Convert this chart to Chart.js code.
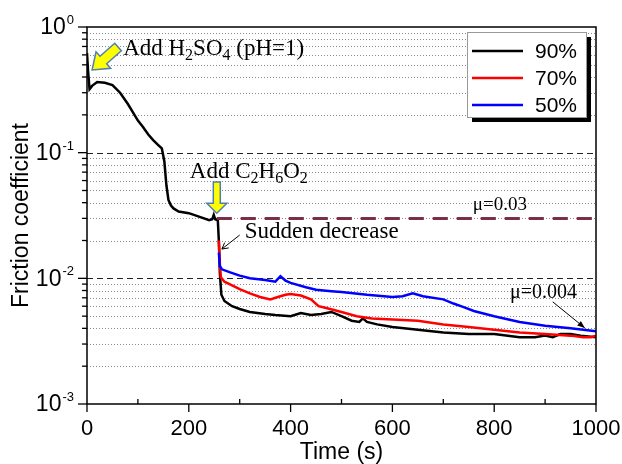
<!DOCTYPE html>
<html>
<head>
<meta charset="utf-8">
<script src="https://cdn.jsdelivr.net/npm/chart.js@4/dist/chart.umd.min.js"></script>
<style>
  body { margin: 0; background: #fff; }
  #wrap { width: 622px; height: 464px; }
</style>
</head>
<body>
<div id="wrap"><canvas id="fricChart" width="622" height="464"></canvas></div>
<script>
// friction coefficient vs time, three concentrations

const time90 = [0, 2, 5, 10, 20, 35, 50, 65, 80, 90, 100, 110, 120, 130, 140, 147, 152, 156, 160, 165, 170, 180, 200, 220, 240, 246, 249, 252, 257, 259, 261, 264, 270, 285, 300, 320, 350, 370, 400, 420, 440, 460, 480, 500, 520, 535, 542, 550, 570, 600, 650, 700, 750, 800, 850, 880, 900, 915, 930, 950, 970, 1000];
const mu90   = [0.62, 0.45, 0.32, 0.34, 0.365, 0.36, 0.345, 0.3, 0.245, 0.21, 0.18, 0.16, 0.14, 0.126, 0.115, 0.108, 0.085, 0.055, 0.042, 0.038, 0.036, 0.034, 0.033, 0.031, 0.029, 0.0295, 0.032, 0.0295, 0.029, 0.02, 0.011, 0.0074, 0.0066, 0.006, 0.0057, 0.0054, 0.0052, 0.0051, 0.005, 0.0053, 0.0051, 0.0052, 0.0054, 0.005, 0.0046, 0.0045, 0.0048, 0.0045, 0.0043, 0.0041, 0.0039, 0.0037, 0.0036, 0.0036, 0.0034, 0.0034, 0.0035, 0.0034, 0.0036, 0.0036, 0.0035, 0.0034];

const time70 = [259, 261, 263, 270, 285, 300, 320, 340, 360, 375, 390, 400, 420, 440, 455, 470, 500, 530, 560, 600, 650, 700, 750, 800, 850, 900, 950, 975, 990, 1000];
const mu70   = [0.02, 0.013, 0.0102, 0.0094, 0.0088, 0.0082, 0.0076, 0.0071, 0.0068, 0.0071, 0.0074, 0.0075, 0.0073, 0.0068, 0.006, 0.0058, 0.0054, 0.005, 0.0048, 0.0047, 0.0046, 0.0043, 0.0041, 0.0039, 0.0037, 0.0036, 0.0035, 0.0034, 0.0034, 0.0035];

const time50 = [259, 261, 265, 280, 300, 320, 350, 370, 380, 390, 400, 430, 450, 480, 500, 550, 600, 620, 640, 660, 700, 720, 740, 760, 800, 850, 900, 950, 1000];
const mu50   = [0.016, 0.0125, 0.0118, 0.0112, 0.0105, 0.01, 0.0097, 0.0094, 0.0104, 0.0096, 0.0092, 0.0085, 0.0081, 0.0079, 0.0078, 0.0074, 0.0071, 0.0072, 0.0076, 0.0072, 0.0068, 0.0063, 0.0059, 0.0055, 0.005, 0.0045, 0.0042, 0.004, 0.0038];

// mu = 0.03 reference line
const refTime = [255, 1000];
const refMu   = [0.03, 0.03];

const seriesLabels = ['90%', '70%', '50%'];
const seriesColors = ['#000000', '#ff0000', '#0000ff'];

const yMajor = [1, 0.1, 0.01, 0.001];
const yExp   = ['0', '-1', '-2', '-3'];

const SANS  = '"Liberation Sans", Arial, sans-serif';
const SERIF = '"Liberation Serif", "Times New Roman", serif';

const pts = (xs, ys) => xs.map((x, i) => ({ x, y: ys[i] }));

// minor log values 2..9 per decade
const yMinor = [];
for (const d of [0.001, 0.01, 0.1]) {
  for (let k = 2; k <= 9; k++) yMinor.push(+(k * d).toPrecision(3));
}

function drawRich(ctx, parts, x, y, size) {
  ctx.textAlign = 'left';
  ctx.textBaseline = 'alphabetic';
  for (const p of parts) {
    const sub = typeof p !== 'string';
    const txt = sub ? p.sub : p;
    ctx.font = (sub ? Math.round(size * 0.68) : size) + 'px ' + SERIF;
    ctx.fillText(txt, x, y + (sub ? size * 0.22 : 0));
    x += ctx.measureText(txt).width;
  }
}

function blockArrow(ctx, tx, ty, px, py, shaft, head, headLen) {
  const L = Math.hypot(px - tx, py - ty);
  const dx = (px - tx) / L, dy = (py - ty) / L;
  const nx = -dy, ny = dx;
  const hx = px - dx * headLen, hy = py - dy * headLen;
  ctx.beginPath();
  ctx.moveTo(tx + nx * shaft, ty + ny * shaft);
  ctx.lineTo(hx + nx * shaft, hy + ny * shaft);
  ctx.lineTo(hx + nx * head, hy + ny * head);
  ctx.lineTo(px, py);
  ctx.lineTo(hx - nx * head, hy - ny * head);
  ctx.lineTo(hx - nx * shaft, hy - ny * shaft);
  ctx.lineTo(tx - nx * shaft, ty - ny * shaft);
  ctx.closePath();
  ctx.fillStyle = '#ffff00';
  ctx.fill();
  ctx.strokeStyle = '#4f7fb0';
  ctx.lineWidth = 1.5;
  ctx.stroke();
}

function thinArrow(ctx, x1, y1, x2, y2, filled) {
  const a = Math.atan2(y2 - y1, x2 - x1);
  ctx.strokeStyle = '#000';
  ctx.fillStyle = '#000';
  ctx.lineWidth = 1;
  ctx.beginPath();
  ctx.moveTo(x1, y1);
  ctx.lineTo(x2, y2);
  ctx.stroke();
  const h = filled ? 8 : 7, w = filled ? 0.38 : 0.5;
  ctx.beginPath();
  ctx.moveTo(x2 - h * Math.cos(a - w), y2 - h * Math.sin(a - w));
  ctx.lineTo(x2, y2);
  ctx.lineTo(x2 - h * Math.cos(a + w), y2 - h * Math.sin(a + w));
  if (filled) { ctx.closePath(); ctx.fill(); } else ctx.stroke();
}

const decor = {
  id: 'decor',
  beforeDatasetsDraw(chart) {
    const { ctx, chartArea: a, scales: { y } } = chart;
    ctx.save();
    ctx.lineWidth = 1;
    ctx.strokeStyle = '#8a8a8a';
    ctx.setLineDash([1, 2]);
    for (const v of yMinor) {
      const py = Math.round(y.getPixelForValue(v)) + 0.5;
      ctx.beginPath(); ctx.moveTo(a.left, py); ctx.lineTo(a.right, py); ctx.stroke();
    }
    ctx.strokeStyle = '#222';
    ctx.lineWidth = 1.2;
    ctx.setLineDash([6, 4]);
    for (const v of [0.1, 0.01]) {
      const py = Math.round(y.getPixelForValue(v)) + 0.5;
      ctx.beginPath(); ctx.moveTo(a.left, py); ctx.lineTo(a.right, py); ctx.stroke();
    }
    ctx.restore();
  },
  afterDraw(chart) {
    const { ctx, chartArea: a, scales: { x, y } } = chart;
    ctx.save();
    ctx.setLineDash([]);

    // frame
    ctx.strokeStyle = '#000';
    ctx.lineWidth = 1.5;
    ctx.strokeRect(a.left, a.top, a.right - a.left, a.bottom - a.top);

    // y ticks (outside)
    ctx.lineWidth = 1.3;
    for (const v of yMajor) {
      const py = y.getPixelForValue(v);
      ctx.beginPath(); ctx.moveTo(a.left - 9, py); ctx.lineTo(a.left, py); ctx.stroke();
    }
    for (const v of yMinor) {
      const py = y.getPixelForValue(v);
      ctx.beginPath(); ctx.moveTo(a.left - 5, py); ctx.lineTo(a.left, py); ctx.stroke();
    }
    // x ticks: major outside, minor inside
    for (let t = 0; t <= 1000; t += 100) {
      const px = x.getPixelForValue(t);
      ctx.beginPath();
      if (t % 200 === 0) { ctx.moveTo(px, a.bottom); ctx.lineTo(px, a.bottom + 8); }
      else { ctx.moveTo(px, a.bottom); ctx.lineTo(px, a.bottom - 5); }
      ctx.stroke();
    }

    // y tick labels 10^n
    ctx.fillStyle = '#000';
    yMajor.forEach((v, i) => {
      const py = y.getPixelForValue(v);
      const right = a.left - 13;
      ctx.font = '13px ' + SANS;
      const ew = ctx.measureText(yExp[i]).width;
      ctx.textAlign = 'left';
      ctx.textBaseline = 'alphabetic';
      ctx.fillText(yExp[i], right - ew, py - 3);
      ctx.font = '23px ' + SANS;
      ctx.textAlign = 'right';
      ctx.textBaseline = 'middle';
      ctx.fillText('10', right - ew - 1, py + 1);
    });

    // axis titles
    ctx.font = '23px ' + SANS;
    ctx.textAlign = 'center';
    ctx.textBaseline = 'middle';
    ctx.fillText('Time (s)', (a.left + a.right) / 2, 453);
    ctx.save();
    ctx.translate(22, (a.top + a.bottom) / 2);
    ctx.rotate(-Math.PI / 2);
    ctx.fillText('Friction coefficient', 0, 0);
    ctx.restore();

    // annotations (anchored in data space)
    const X = t => x.getPixelForValue(t), Y = f => y.getPixelForValue(f);
    ctx.fillStyle = '#000';
    drawRich(ctx, ['Add H', { sub: '2' }, 'SO', { sub: '4' }, ' (pH=1)'], X(71), Y(0.6), 23);
    drawRich(ctx, ['Add C', { sub: '2' }, 'H', { sub: '6' }, 'O', { sub: '2' }], X(202), Y(0.063), 23);
    drawRich(ctx, ['Sudden decrease'], X(310), Y(0.021), 23);
    drawRich(ctx, ['\u03bc=0.03'], X(758), Y(0.035), 19);
    drawRich(ctx, ['\u03bc=0.004'], X(831), Y(0.007), 20);

    blockArrow(ctx, X(61), Y(0.693), X(10), Y(0.455), 5, 11, 15);
    blockArrow(ctx, X(255), Y(0.0585), X(255), Y(0.033), 3.5, 10, 10);
    thinArrow(ctx, X(300), Y(0.0221), X(265), Y(0.0171), false);
    thinArrow(ctx, X(915), Y(0.0065), X(978), Y(0.00403), true);

    // legend box with shadow
    const lx = 467, ly = 32, lw = 119, lh = 85;
    ctx.fillStyle = '#000';
    ctx.fillRect(lx + 5, ly + 5, lw, lh);
    ctx.fillStyle = '#fff';
    ctx.fillRect(lx, ly, lw, lh);
    ctx.strokeStyle = '#999';
    ctx.lineWidth = 1;
    ctx.strokeRect(lx + 0.5, ly + 0.5, lw, lh);
    ctx.font = '21px ' + SANS;
    ctx.textAlign = 'left';
    ctx.textBaseline = 'middle';
    seriesLabels.forEach((lab, i) => {
      const yy = ly + 19 + i * 27;
      ctx.strokeStyle = seriesColors[i];
      ctx.lineWidth = 2.5;
      ctx.beginPath(); ctx.moveTo(472, yy); ctx.lineTo(523, yy); ctx.stroke();
      ctx.fillStyle = '#000';
      ctx.fillText(lab, 535, yy + 1);
    });
    ctx.restore();
  }
};

const lineDs = (label, data, color, width) => ({
  label, data, borderColor: color, borderWidth: width,
  pointRadius: 0, showLine: true, tension: 0, fill: false
});

new Chart(document.getElementById('fricChart'), {
  type: 'scatter',
  data: {
    datasets: [
      Object.assign(lineDs('mu=0.03', pts(refTime, refMu), '#7d2c4a', 3), { borderDash: [15, 9] }),
      lineDs(seriesLabels[2], pts(time50, mu50), seriesColors[2], 2.5),
      lineDs(seriesLabels[1], pts(time70, mu70), seriesColors[1], 2.5),
      lineDs(seriesLabels[0], pts(time90, mu90), seriesColors[0], 2.5)
    ]
  },
  options: {
    responsive: false,
    animation: false,
    layout: { padding: { left: 0, right: 26, top: 27, bottom: 0 } },
    plugins: { legend: { display: false }, tooltip: { enabled: false } },
    scales: {
      x: {
        type: 'linear', min: 0, max: 1000,
        grid: { display: false, drawTicks: false },
        border: { display: false },
        ticks: {
          stepSize: 100, autoSkip: false, maxRotation: 0, padding: 12,
          color: '#000', font: { family: SANS, size: 22 },
          callback: v => (v % 200 === 0 ? String(v) : '')
        },
        afterFit: s => { s.height = 60; s.paddingLeft = 0; s.paddingRight = 0; }
      },
      y: {
        type: 'logarithmic', min: 0.001, max: 1,
        grid: { display: false, drawTicks: false },
        border: { display: false },
        ticks: { display: false },
        afterFit: s => { s.width = 87; s.paddingTop = 0; s.paddingBottom = 0; }
      }
    }
  },
  plugins: [decor]
});
</script>
</body>
</html>
